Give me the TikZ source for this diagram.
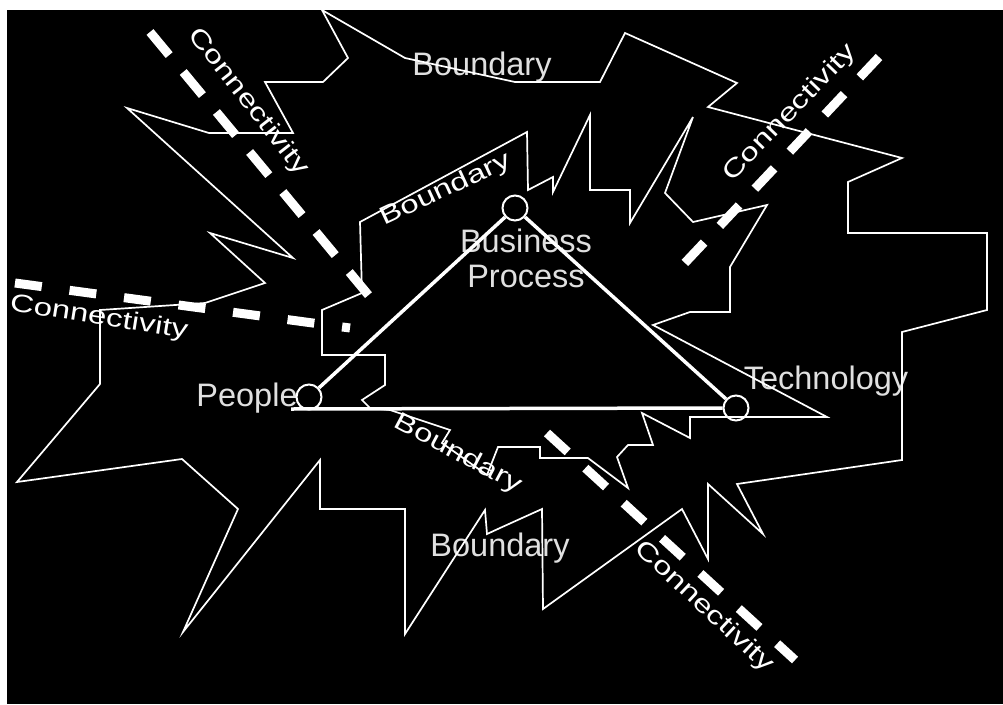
\documentclass[tikz,border=0pt]{standalone}
\usepackage{fontspec}
\setmainfont{Liberation Sans}
\newfontfamily\labfont{Liberation Sans}
\newfontfamily\smallfont{Liberation Sans}
\definecolor{txt}{RGB}{224,224,224}
\tikzset{
  edge/.style={white, line width=1.7pt, line join=miter},
  tri/.style={white, line width=3.5pt},
  hub/.style={circle, draw=white, line width=2pt, minimum size=25pt, inner sep=0pt},
  conn/.style={white, line width=9pt},
  biglabel/.style={text=txt, font=\fontsize{32.5}{35}\selectfont\labfont, inner sep=0pt, align=center},
  smalllabel/.style={text=white, font=\fontsize{25}{27}\selectfont\smallfont, inner sep=0pt}
}
\begin{document}
\begin{tikzpicture}[x=1pt,y=-1pt]
\useasboundingbox (0,0) rectangle (1003,704);
\fill[white] (0,0) rectangle (1003,704);
\fill[black] (7,10) rectangle (1003,704);

% labels
\node[biglabel] (bndtop) at (482,67) {Boundary};
\node[biglabel] (bndbot) at (500,548) {Boundary};
\node[biglabel] (bplabel) at (526,258) {Business\\Process};
\node[biglabel] (peoplelabel) at (247,398) {People};
\node[biglabel] (techlabel) at (826,381) {Technology};

\node[smalllabel, rotate=-52, xscale=1.32] (ctl) at (248,102) {Connectivity};
\node[smalllabel, rotate=46, xscale=1.32] (ctr) at (790,113) {Connectivity};
\node[smalllabel, rotate=-9, xscale=1.32] (cl) at (99,318) {Connectivity};
\node[smalllabel, rotate=-43, xscale=1.32] (cbr) at (704,607) {Connectivity};
\node[smalllabel, rotate=25, xscale=1.32] (bsa) at (446,190) {Boundary};
\node[smalllabel, rotate=-28, xscale=1.32] (bsb) at (458,454) {Boundary};

% outer boundary
\draw[edge] (322,10) -- (405,58) -- (515,82) -- (600,82) -- (625,33) -- (737,83)
  -- (708,107) -- (902,158) -- (848,182) -- (848,233) -- (987,233) -- (987,310)
  -- (902,332) -- (902,460) -- (737,484) -- (763,534) -- (708,484) -- (708,559)
  -- (682,509) -- (543,609) -- (542,509) -- (500,528) -- (487,534) -- (485,510)
  -- (405,634) -- (405,509) -- (320,509) -- (320,460) -- (183,632) -- (238,509)
  -- (182,459) -- (17,482) -- (100,384) -- (100,310) -- (205,303) -- (265,283)
  -- (210,233) -- (293,258) -- (127,108) -- (209,133) -- (293,133) -- (265,82)
  -- (323,82) -- (348,58) -- cycle;

% inner boundary
\draw[edge] (527,132) -- (528,190) -- (553,177) -- (553,192) -- (590,115) -- (590,190)
  -- (630,190) -- (630,223) -- (693,117) -- (665,193) -- (693,222) -- (767,205)
  -- (730,267) -- (730,312) -- (690,312) -- (653,325) -- (827,417) -- (690,417)
  -- (690,438) -- (642,413) -- (653,445) -- (628,445) -- (617,457) -- (628,488)
  -- (588,458) -- (540,458) -- (540,447) -- (498,447) -- (487,475) -- (442,443)
  -- (450,430) -- (390,410) -- (370,408) -- (362,400) -- (385,385) -- (385,355)
  -- (322,355) -- (322,310) -- (362,293) -- (360,222) -- cycle;

% connectivity dashes
\coordinate (tlA) at (150,32);
\coordinate (tlB) at (370,297);
\coordinate (lA) at (15,283);
\coordinate (lB) at (350,328);
\coordinate (trA) at (879,57);
\coordinate (trB) at (682,266);
\coordinate (brA) at (547,433);
\coordinate (brB) at (795,660);
\draw[conn, dash pattern=on 30pt off 22pt] (tlA) -- (tlB);
\draw[conn, dash pattern=on 27pt off 28pt] (lA) -- (lB);
\draw[conn, dash pattern=on 28pt off 23pt] (trA) -- (trB);
\draw[conn, dash pattern=on 28pt off 24pt] (brA) -- (brB);

% triangle
\node[hub] (people) at (309,397) {};
\node[hub] (bp) at (515,208) {};
\node[hub] (tech) at (736,408) {};
\coordinate (baseL) at (291,409);
\draw[tri] (people) -- (bp);
\draw[tri] (bp) -- (tech);
\draw[tri] (baseL) -- (tech.west);
\end{tikzpicture}
\end{document}
